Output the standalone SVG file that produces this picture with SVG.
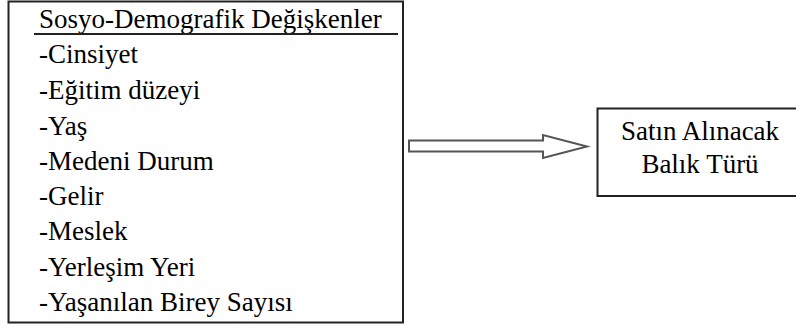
<svg xmlns="http://www.w3.org/2000/svg" width="796" height="328" viewBox="0 0 796 328">
<style>
.box{fill:#fff;stroke:#222;stroke-width:2}
.arrow{fill:#fff;stroke:#555;stroke-width:2;stroke-linejoin:miter}
</style>
<rect width="796" height="328" fill="#fff"/>
<g id="node-sosyo" font-family="Liberation Serif, Times New Roman, serif" font-size="27" fill="#000">
<rect class="box" x="8.5" y="1.5" width="394.5" height="321"/>
<text x="39" y="28">Sosyo-Demografik Değişkenler</text>
<line x1="34" y1="34" x2="398" y2="34" stroke="#222" stroke-width="2"/>
<text x="39" y="63">-Cinsiyet</text>
<text x="39" y="99">-Eğitim düzeyi</text>
<text x="39" y="135">-Yaş</text>
<text x="39" y="170">-Medeni Durum</text>
<text x="39" y="205">-Gelir</text>
<text x="39" y="240">-Meslek</text>
<text x="39" y="276">-Yerleşim Yeri</text>
<text x="39" y="311">-Yaşanılan Birey Sayısı</text>
</g>
<g id="connectors">
<path class="arrow" d="M409,140.5 L543,140.5 L543,135 L587,146.5 L543,158 L543,151.5 L409,151.5 Z"/>
</g>
<g id="node-balik" font-family="Liberation Serif, Times New Roman, serif" font-size="27" fill="#000">
<rect class="box" x="597.5" y="108.5" width="210" height="87.5"/>
<text x="700" y="140" text-anchor="middle">Satın Alınacak</text>
<text x="700" y="173" text-anchor="middle">Balık Türü</text>
</g>
</svg>
